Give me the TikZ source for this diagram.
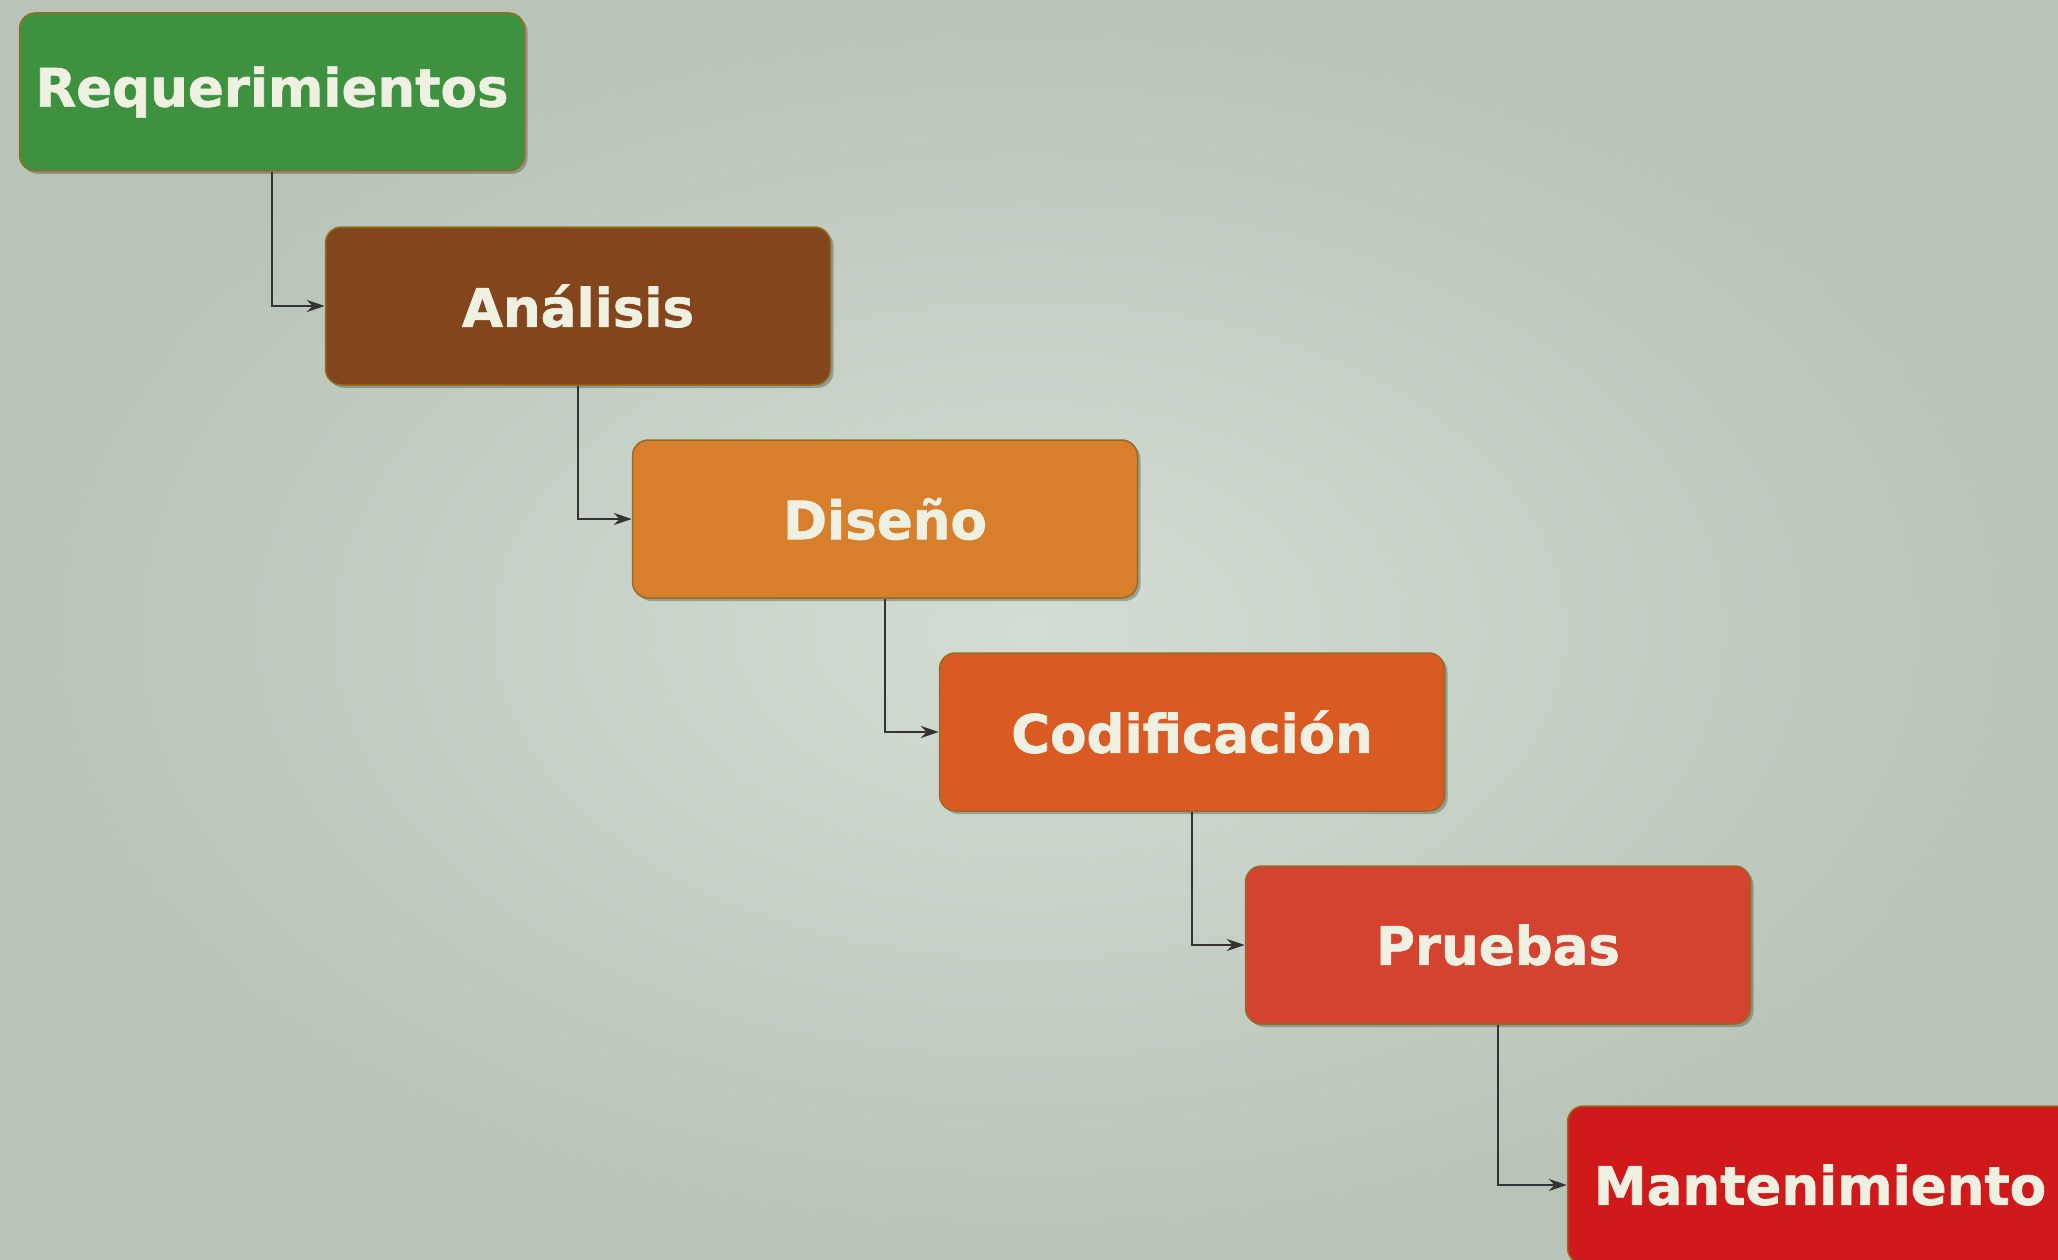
\documentclass[tikz,border=0pt]{standalone}
\usepackage{fontspec}
\setmainfont{DejaVu Sans}[BoldFeatures={FakeBold=1.3}]
\usetikzlibrary{arrows.meta,shadows}
\definecolor{bgin}{HTML}{D3DDD3}
\definecolor{bgout}{HTML}{B9C4B9}
\definecolor{cReq}{HTML}{3E913E}
\definecolor{cAna}{HTML}{83451B}
\definecolor{cDis}{HTML}{D87F2B}
\definecolor{cCod}{HTML}{DA5A23}
\definecolor{cPru}{HTML}{D3432F}
\definecolor{cMan}{HTML}{D0191B}
\definecolor{txt}{HTML}{EEF1E2}
\definecolor{edge}{HTML}{B88A2A}
\newcommand{\stagetext}[1]{\raisebox{-5pt}{#1}}
\tikzset{
  x=1pt,y=-1pt,
  stage/.style={draw=edge!80!black, line width=1.5pt, rounded corners=16pt,
    minimum width=505pt, minimum height=158pt, inner sep=0pt,
    text=txt, font=\fontsize{53}{60}\selectfont\bfseries,
    drop shadow={shadow xshift=3pt,shadow yshift=-3pt,opacity=0.25,fill=black}},
  conn/.style={draw=black!80, line width=2.2pt, -{Stealth[length=18pt,width=12pt]}}
}
\begin{document}
\begin{tikzpicture}
\shade[inner color=bgin, outer color=bgout] (0,0) rectangle (2058,1260);
\useasboundingbox (0,0) rectangle (2058,1260);
\node[stage, fill=cReq] (req) at (272,92) {\stagetext{Requerimientos}};
\node[stage, fill=cAna] (ana) at (578,306) {\stagetext{Análisis}};
\node[stage, fill=cDis] (dis) at (885,519) {\stagetext{Diseño}};
\node[stage, fill=cCod] (cod) at (1192,732) {\stagetext{Codificación}};
\node[stage, fill=cPru] (pru) at (1498,945) {\stagetext{Pruebas}};
\node[stage, fill=cMan] (man) at (1820,1185) {\stagetext{Mantenimiento}};
\draw[conn] (req.south) |- (ana.west);
\draw[conn] (ana.south) |- (dis.west);
\draw[conn] (dis.south) |- (cod.west);
\draw[conn] (cod.south) |- (pru.west);
\draw[conn] (pru.south) |- (man.west);
\end{tikzpicture}
\end{document}
